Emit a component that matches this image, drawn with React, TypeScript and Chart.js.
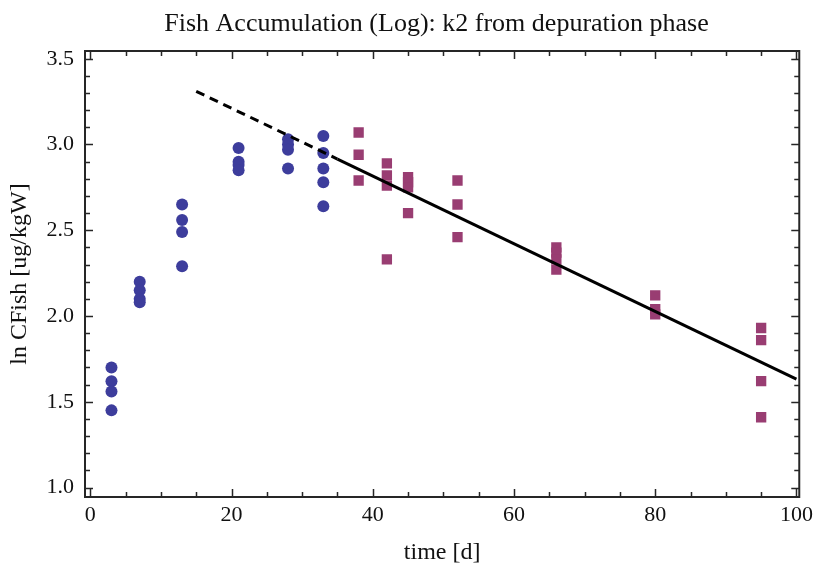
import React, { useEffect, useRef } from "react";
import { Chart, registerables } from "chart.js";

Chart.register(...registerables);

// ---- data ----
const uptakeDays = [3, 3, 3, 3, 7, 7, 7, 7, 13, 13, 13, 13, 21, 21, 21, 21, 28, 28, 28, 28, 33, 33, 33, 33, 33];
const uptakeLnC = [1.70, 1.62, 1.56, 1.45, 2.20, 2.15, 2.10, 2.08, 2.65, 2.56, 2.49, 2.29, 2.98, 2.90, 2.88, 2.85, 3.03, 3.00, 2.97, 2.86, 3.05, 2.95, 2.86, 2.78, 2.64];
const depurationDays = [38, 38, 38, 42, 42, 42, 42, 45, 45, 45, 45, 52, 52, 52, 66, 66, 66, 66, 80, 80, 80, 95, 95, 95, 95];
const depurationLnC = [3.07, 2.94, 2.79, 2.89, 2.82, 2.76, 2.33, 2.81, 2.78, 2.75, 2.60, 2.79, 2.65, 2.46, 2.40, 2.37, 2.33, 2.27, 2.12, 2.04, 2.01, 1.93, 1.86, 1.62, 1.41];
const fitExtrapDays = [15, 35];
const fitExtrapLnC = [3.31, 2.915];
const fitDays = [35, 100];
const fitLnC = [2.915, 1.632];

const xMajorTicks = [0, 20, 40, 60, 80, 100];
const yMajorTicks = [1.0, 1.5, 2.0, 2.5, 3.0, 3.5];

const TITLE = "Fish Accumulation (Log): k2 from depuration phase";
const X_TITLE = "time [d]";
const Y_TITLE = "ln CFish [ug/kgW]";

const pts = (xs: number[], ys: number[]) => xs.map((x, i) => ({ x, y: ys[i] }));

const FONT = "'Liberation Serif', 'DejaVu Serif', serif";

const framePlugin = {
  id: "frameTicks",
  afterDatasetsDraw(chart: any) {
    const { ctx, chartArea: a, scales } = chart;
    const xs = scales.x;
    const ys = scales.y;
    ctx.save();
    ctx.strokeStyle = "#262626";
    ctx.lineWidth = 1.5;
    ctx.beginPath();
    // x ticks (major every 20, minor every 5) on bottom and top
    for (let v = 0; v <= 100; v += 5) {
      const px = Math.round(xs.getPixelForValue(v)) + 0.5;
      const len = xMajorTicks.includes(v) ? 8 : 5;
      ctx.moveTo(px, a.bottom);
      ctx.lineTo(px, a.bottom - len);
      ctx.moveTo(px, a.top);
      ctx.lineTo(px, a.top + len);
    }
    // y ticks (major every 0.5, minor every 0.1) on left and right
    for (let i = 10; i <= 35; i++) {
      const v = i / 10;
      const py = Math.round(ys.getPixelForValue(v)) + 0.5;
      const len = i % 5 === 0 ? 8 : 5;
      ctx.moveTo(a.left, py);
      ctx.lineTo(a.left + len, py);
      ctx.moveTo(a.right, py);
      ctx.lineTo(a.right - len, py);
    }
    ctx.stroke();
    ctx.lineWidth = 2;
    ctx.strokeRect(a.left, a.top, a.right - a.left, a.bottom - a.top);
    ctx.restore();
  },
  afterDraw(chart: any) {
    const { ctx } = chart;
    ctx.save();
    ctx.fillStyle = "#111";
    ctx.font = `26px ${FONT}`;
    ctx.textAlign = "center";
    ctx.textBaseline = "alphabetic";
    ctx.fillText(TITLE, 436.5, 31);
    ctx.restore();
  },
};

export default function App() {
  const ref = useRef<HTMLCanvasElement>(null);

  useEffect(() => {
    if (!ref.current) return;
    const chart = new Chart(ref.current, {
      type: "scatter",
      data: {
        datasets: [
          {
            type: "line",
            label: "fit (extrapolated)",
            data: pts(fitExtrapDays, fitExtrapLnC),
            borderColor: "#000",
            borderWidth: 3,
            borderDash: [9, 6],
            pointRadius: 0,
            fill: false,
          } as any,
          {
            type: "line",
            label: "fit",
            data: pts(fitDays, fitLnC),
            borderColor: "#000",
            borderWidth: 3,
            pointRadius: 0,
            fill: false,
          } as any,
          {
            label: "uptake",
            data: pts(uptakeDays, uptakeLnC),
            pointStyle: "circle",
            pointRadius: 6,
            pointBorderWidth: 0,
            backgroundColor: "#3d3d9c",
            borderColor: "#3d3d9c",
          },
          {
            label: "depuration",
            data: pts(depurationDays, depurationLnC),
            pointStyle: "rect",
            pointRadius: 7.3,
            pointBorderWidth: 0,
            backgroundColor: "#993d72",
            borderColor: "#993d72",
          },
        ],
      },
      options: {
        responsive: false,
        animation: false,
        devicePixelRatio: 1,
        layout: { padding: { left: 0, right: 15, top: 51, bottom: 0 } },
        plugins: {
          legend: { display: false },
          tooltip: { enabled: false },
          title: { display: false },
        },
        scales: {
          x: {
            type: "linear",
            min: -0.75,
            max: 100.4,
            afterFit: (s: any) => {
              s.height = 70;
            },
            afterBuildTicks: (s: any) => {
              s.ticks = xMajorTicks.map((v) => ({ value: v }));
            },
            grid: { display: false, drawTicks: false },
            border: { display: false },
            ticks: {
              autoSkip: false,
              maxRotation: 0,
              padding: 5,
              color: "#111",
              font: { family: FONT, size: 22 },
              callback: (v: any) => String(v),
            },
            title: {
              display: true,
              text: X_TITLE,
              color: "#111",
              font: { family: FONT, size: 24 },
              padding: { top: 7, bottom: 0 },
            },
          },
          y: {
            type: "linear",
            min: 0.945,
            max: 3.545,
            afterFit: (s: any) => {
              s.width = 85;
            },
            afterBuildTicks: (s: any) => {
              s.ticks = yMajorTicks.map((v) => ({ value: v }));
            },
            grid: { display: false, drawTicks: false },
            border: { display: false },
            ticks: {
              autoSkip: false,
              padding: 11,
              color: "#111",
              font: { family: FONT, size: 22 },
              callback: (v: any) => Number(v).toFixed(1),
            },
            title: {
              display: true,
              text: Y_TITLE,
              color: "#111",
              font: { family: FONT, size: 24 },
              padding: { top: 5, bottom: 0 },
            },
          },
        },
      },
      plugins: [framePlugin],
    });
    return () => chart.destroy();
  }, []);

  return (
    <div style={{ position: "fixed", left: 0, top: 0, width: 818, height: 567, background: "#fff" }}>
      <canvas ref={ref} width={818} height={567} style={{ display: "block" }} />
    </div>
  );
}
